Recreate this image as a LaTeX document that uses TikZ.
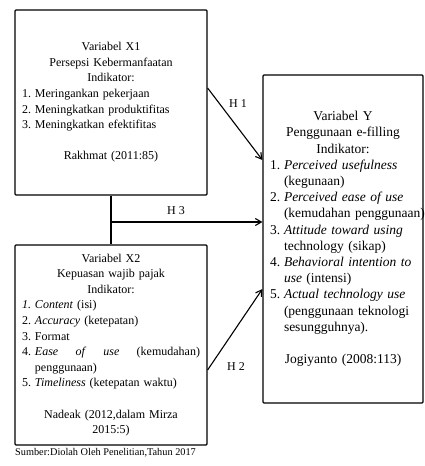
\documentclass[tikz,border=0pt]{standalone}
\usepackage{fontspec}
\setmainfont{Liberation Serif}
\usetikzlibrary{arrows.meta}

\newcommand{\itm}[3][13pt]{\makebox[\linewidth][l]{\makebox[#1][l]{#2}#3}}
\newcommand{\cnt}[2][13pt]{\makebox[\linewidth][l]{\hspace*{#1}#2}}

\begin{document}
\begin{tikzpicture}[x=1pt,y=-1pt,
	varbox/.style={draw, line width=1.2pt, rounded corners=1pt, align=center, inner xsep=7pt, inner ysep=0pt, font=\fontsize{12}{15.6}\selectfont},
	hyp/.style={line width=1.1pt, -{Straight Barb[length=6pt,width=7pt]}},
	lbl/.style={font=\fontsize{12}{14}\selectfont}]
	\useasboundingbox (0,0) rectangle (425,466);
	\node[varbox, text width=178pt, minimum height=185pt] (x1) at (111,102.5) {
		Variabel X1\\
		Persepsi Kebermanfaatan\\
		Indikator:\\
		\itm{1.}{Meringankan pekerjaan}\\
		\itm{2.}{Meningkatkan produktifitas}\\
		\itm{3.}{Meningkatkan efektifitas}\\[15.6pt]
		Rakhmat (2011:85)};
	\node[varbox, text width=178pt, minimum height=200pt] (x2) at (111,345) {
		Variabel X2\\
		Kepuasan wajib pajak\\
		Indikator:\\
		\itm{\textit{1.}}{\textit{Content} (isi)}\\
		\itm{2.}{\textit{Accuracy} (ketepatan)}\\
		\itm{3.}{Format}\\
		\itm{4.}{\textit{Ease}\hfill\textit{of}\hfill\textit{use}\hfill(kemudahan)}\\
		\cnt{penggunaan)}\\
		\itm{5.}{\textit{Timeliness} (ketepatan waktu)}\\[15.6pt]
		Nadeak (2012,dalam Mirza\\
		2015:5)};
	\node[varbox, text width=146pt, minimum height=328pt, font=\fontsize{13.5}{16.2}\selectfont] (y) at (343,239) {
		Variabel Y\\
		Penggunaan e-filling\\
		Indikator:\\
		\itm[14pt]{1.}{\textit{Perceived usefulness}}\\
		\cnt[14pt]{(kegunaan)}\\
		\itm[14pt]{2.}{\textit{Perceived ease of use}}\\
		\cnt[14pt]{(kemudahan penggunaan)}\\
		\itm[14pt]{3.}{\textit{Attitude toward using}}\\
		\cnt[14pt]{technology (sikap)}\\
		\itm[14pt]{4.}{\textit{Behavioral intention to}}\\
		\cnt[14pt]{\textit{use} (intensi)}\\
		\itm[14pt]{5.}{\textit{Actual technology use}}\\
		\cnt[14pt]{(penggunaan teknologi}\\
		\cnt[14pt]{sesungguhnya).}\\[16.2pt]
		Jogiyanto (2008:113)};
	% hubungan antar variabel
	\coordinate (h1a) at (x1.east |- 0,88);
	\coordinate (h1b) at (y.west |- 0,160);
	\coordinate (h2a) at (x2.east |- 0,370);
	\coordinate (h2b) at (y.west |- 0,289);
	\coordinate (h3a) at (x1.south |- 0,222);
	\draw[line width=1.1pt] (x1.south) -- (x2.north);
	\draw[hyp] (h1a) -- (h1b);
	\draw[hyp] (h3a) -- (y.west |- h3a);
	\draw[hyp] (h2a) -- (h2b);
	\node[lbl] (l1) at (238,104) {H 1};
	\node[lbl] (l3) at (176,211) {H 3};
	\node[lbl] (l2) at (236,367) {H 2};
	\node[font=\fontsize{10.3}{12}\selectfont, anchor=west, inner sep=0pt] (src) at (15,453) {Sumber:Diolah Oleh Penelitian,Tahun 2017};
\end{tikzpicture}
\end{document}
